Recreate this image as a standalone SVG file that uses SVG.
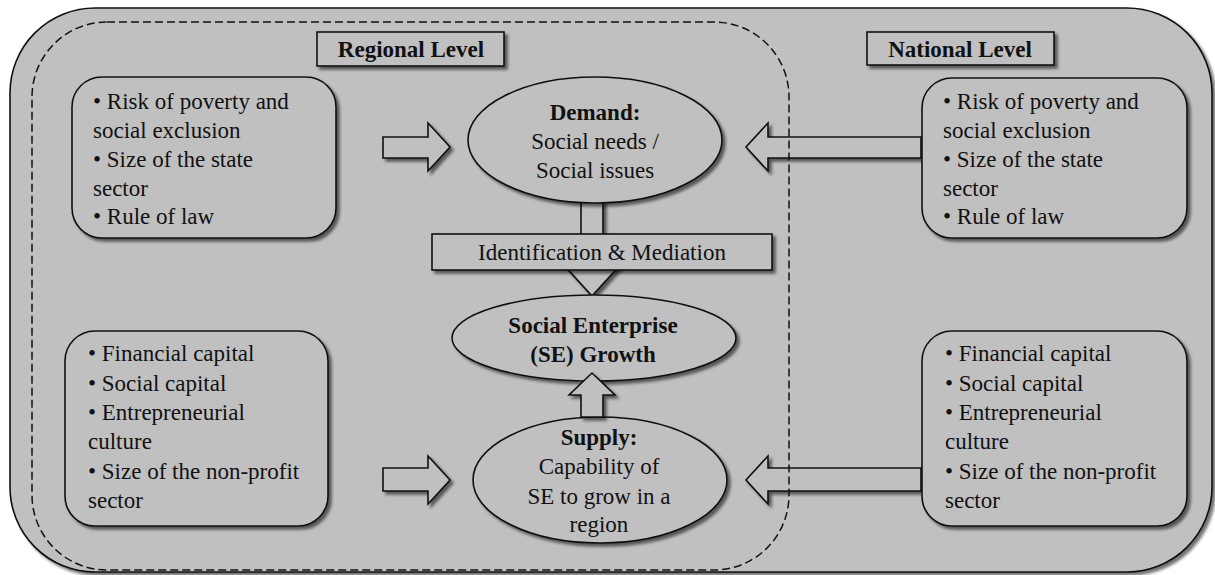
<svg xmlns="http://www.w3.org/2000/svg" width="1215" height="575" viewBox="0 0 1215 575">
  <defs>
    <filter id="shadow" x="-10%" y="-10%" width="130%" height="130%">
      <feGaussianBlur in="SourceAlpha" stdDeviation="1.8"/>
      <feOffset dx="2.5" dy="2.5" result="off"/>
      <feComponentTransfer><feFuncA type="linear" slope="0.55"/></feComponentTransfer>
      <feMerge><feMergeNode/><feMergeNode in="SourceGraphic"/></feMerge>
    </filter>
  </defs>
  <style>
    .shape { fill: #c0c0c0; stroke: #111; stroke-width: 1.6; filter: url(#shadow); }
    text { font-family: 'Liberation Serif', 'Times New Roman', 'DejaVu Serif', serif; font-size: 23px; fill: #111; }
    .bold { font-weight: bold; }
    .mid { text-anchor: middle; }
    .dash { fill: none; stroke: #111; stroke-width: 1.5; stroke-dasharray: 8 4; }
  </style>

  <!-- outer frame: national level -->
  <rect class="shape" x="10" y="8" width="1202" height="564" rx="85" ry="85"/>

  <!-- connectors (block arrows) -->
  <g id="connectors">
    <!-- regional -> demand -->
    <path class="shape" d="M383,137 H428 V123 L450,147 L428,171 V158 H383 Z"/>
    <!-- national -> demand -->
    <path class="shape" d="M921,137 H768 V123 L746,147 L768,171 V158 H921 Z"/>
    <!-- regional -> supply -->
    <path class="shape" d="M383,468 H428 V456 L450,480 L428,504 V491 H383 Z"/>
    <!-- national -> supply -->
    <path class="shape" d="M921,468 H768 V456 L746,480 L768,504 V491 H921 Z"/>
    <!-- demand -> growth (down) -->
    <path class="shape" d="M581,200 H603 V264 H621 L592,296 L563,264 H581 Z"/>
  </g>

  <!-- regional level boundary -->
  <rect class="dash" x="32" y="22" width="757" height="548" rx="75" ry="75"/>

  <g id="regional-label">
    <rect class="shape" x="317" y="32" width="187" height="34"/>
    <text class="bold mid" x="411" y="57">Regional Level</text>
  </g>

  <g id="national-label">
    <rect class="shape" x="867" y="32" width="187" height="33"/>
    <text class="bold mid" x="960" y="57">National Level</text>
  </g>

  <g id="regional-demand-factors">
    <rect class="shape" x="72" y="77" width="264" height="161" rx="30" ry="30"/>
    <text x="93" y="109">• Risk of poverty and</text>
    <text x="93" y="138">social exclusion</text>
    <text x="93" y="167">• Size of the state</text>
    <text x="93" y="196">sector</text>
    <text x="93" y="224">• Rule of law</text>
  </g>

  <g id="national-demand-factors">
    <rect class="shape" x="922" y="78" width="265" height="160" rx="30" ry="30"/>
    <text x="943" y="109">• Risk of poverty and</text>
    <text x="943" y="138">social exclusion</text>
    <text x="943" y="167">• Size of the state</text>
    <text x="943" y="196">sector</text>
    <text x="943" y="224">• Rule of law</text>
  </g>

  <g id="regional-supply-factors">
    <rect class="shape" x="65" y="331" width="263" height="195" rx="30" ry="30"/>
    <text x="88" y="361">• Financial capital</text>
    <text x="88" y="391">• Social capital</text>
    <text x="88" y="420">• Entrepreneurial</text>
    <text x="88" y="449">culture</text>
    <text x="88" y="479">• Size of the non-profit</text>
    <text x="88" y="508">sector</text>
  </g>

  <g id="national-supply-factors">
    <rect class="shape" x="922" y="331" width="265" height="195" rx="30" ry="30"/>
    <text x="945" y="361">• Financial capital</text>
    <text x="945" y="391">• Social capital</text>
    <text x="945" y="420">• Entrepreneurial</text>
    <text x="945" y="449">culture</text>
    <text x="945" y="479">• Size of the non-profit</text>
    <text x="945" y="508">sector</text>
  </g>

  <g id="demand">
    <ellipse class="shape" cx="595" cy="140" rx="127" ry="63"/>
    <text class="bold mid" x="595" y="120">Demand:</text>
    <text class="mid" x="595" y="149">Social needs /</text>
    <text class="mid" x="595" y="178">Social issues</text>
  </g>

  <g id="identification">
    <rect class="shape" x="432" y="234" width="340" height="36"/>
    <text class="mid" x="602" y="260">Identification &amp; Mediation</text>
  </g>

  <g id="se-growth">
    <ellipse class="shape" cx="594" cy="338" rx="142" ry="43"/>
    <text class="bold mid" x="593" y="333">Social Enterprise</text>
    <text class="bold mid" x="593" y="362">(SE) Growth</text>
  </g>

  <g id="supply">
    <ellipse class="shape" cx="600" cy="480" rx="127" ry="63"/>
    <text class="bold mid" x="599" y="445">Supply:</text>
    <text class="mid" x="599" y="474">Capability of</text>
    <text class="mid" x="599" y="504">SE to grow in a</text>
    <text class="mid" x="599" y="532">region</text>
  </g>

  <!-- supply -> growth (up) -->
  <g id="supply-to-growth">
    <path class="shape" d="M581,417 V395 H569 L592,373 L615,395 H603 V417 Z"/>
  </g>
</svg>
